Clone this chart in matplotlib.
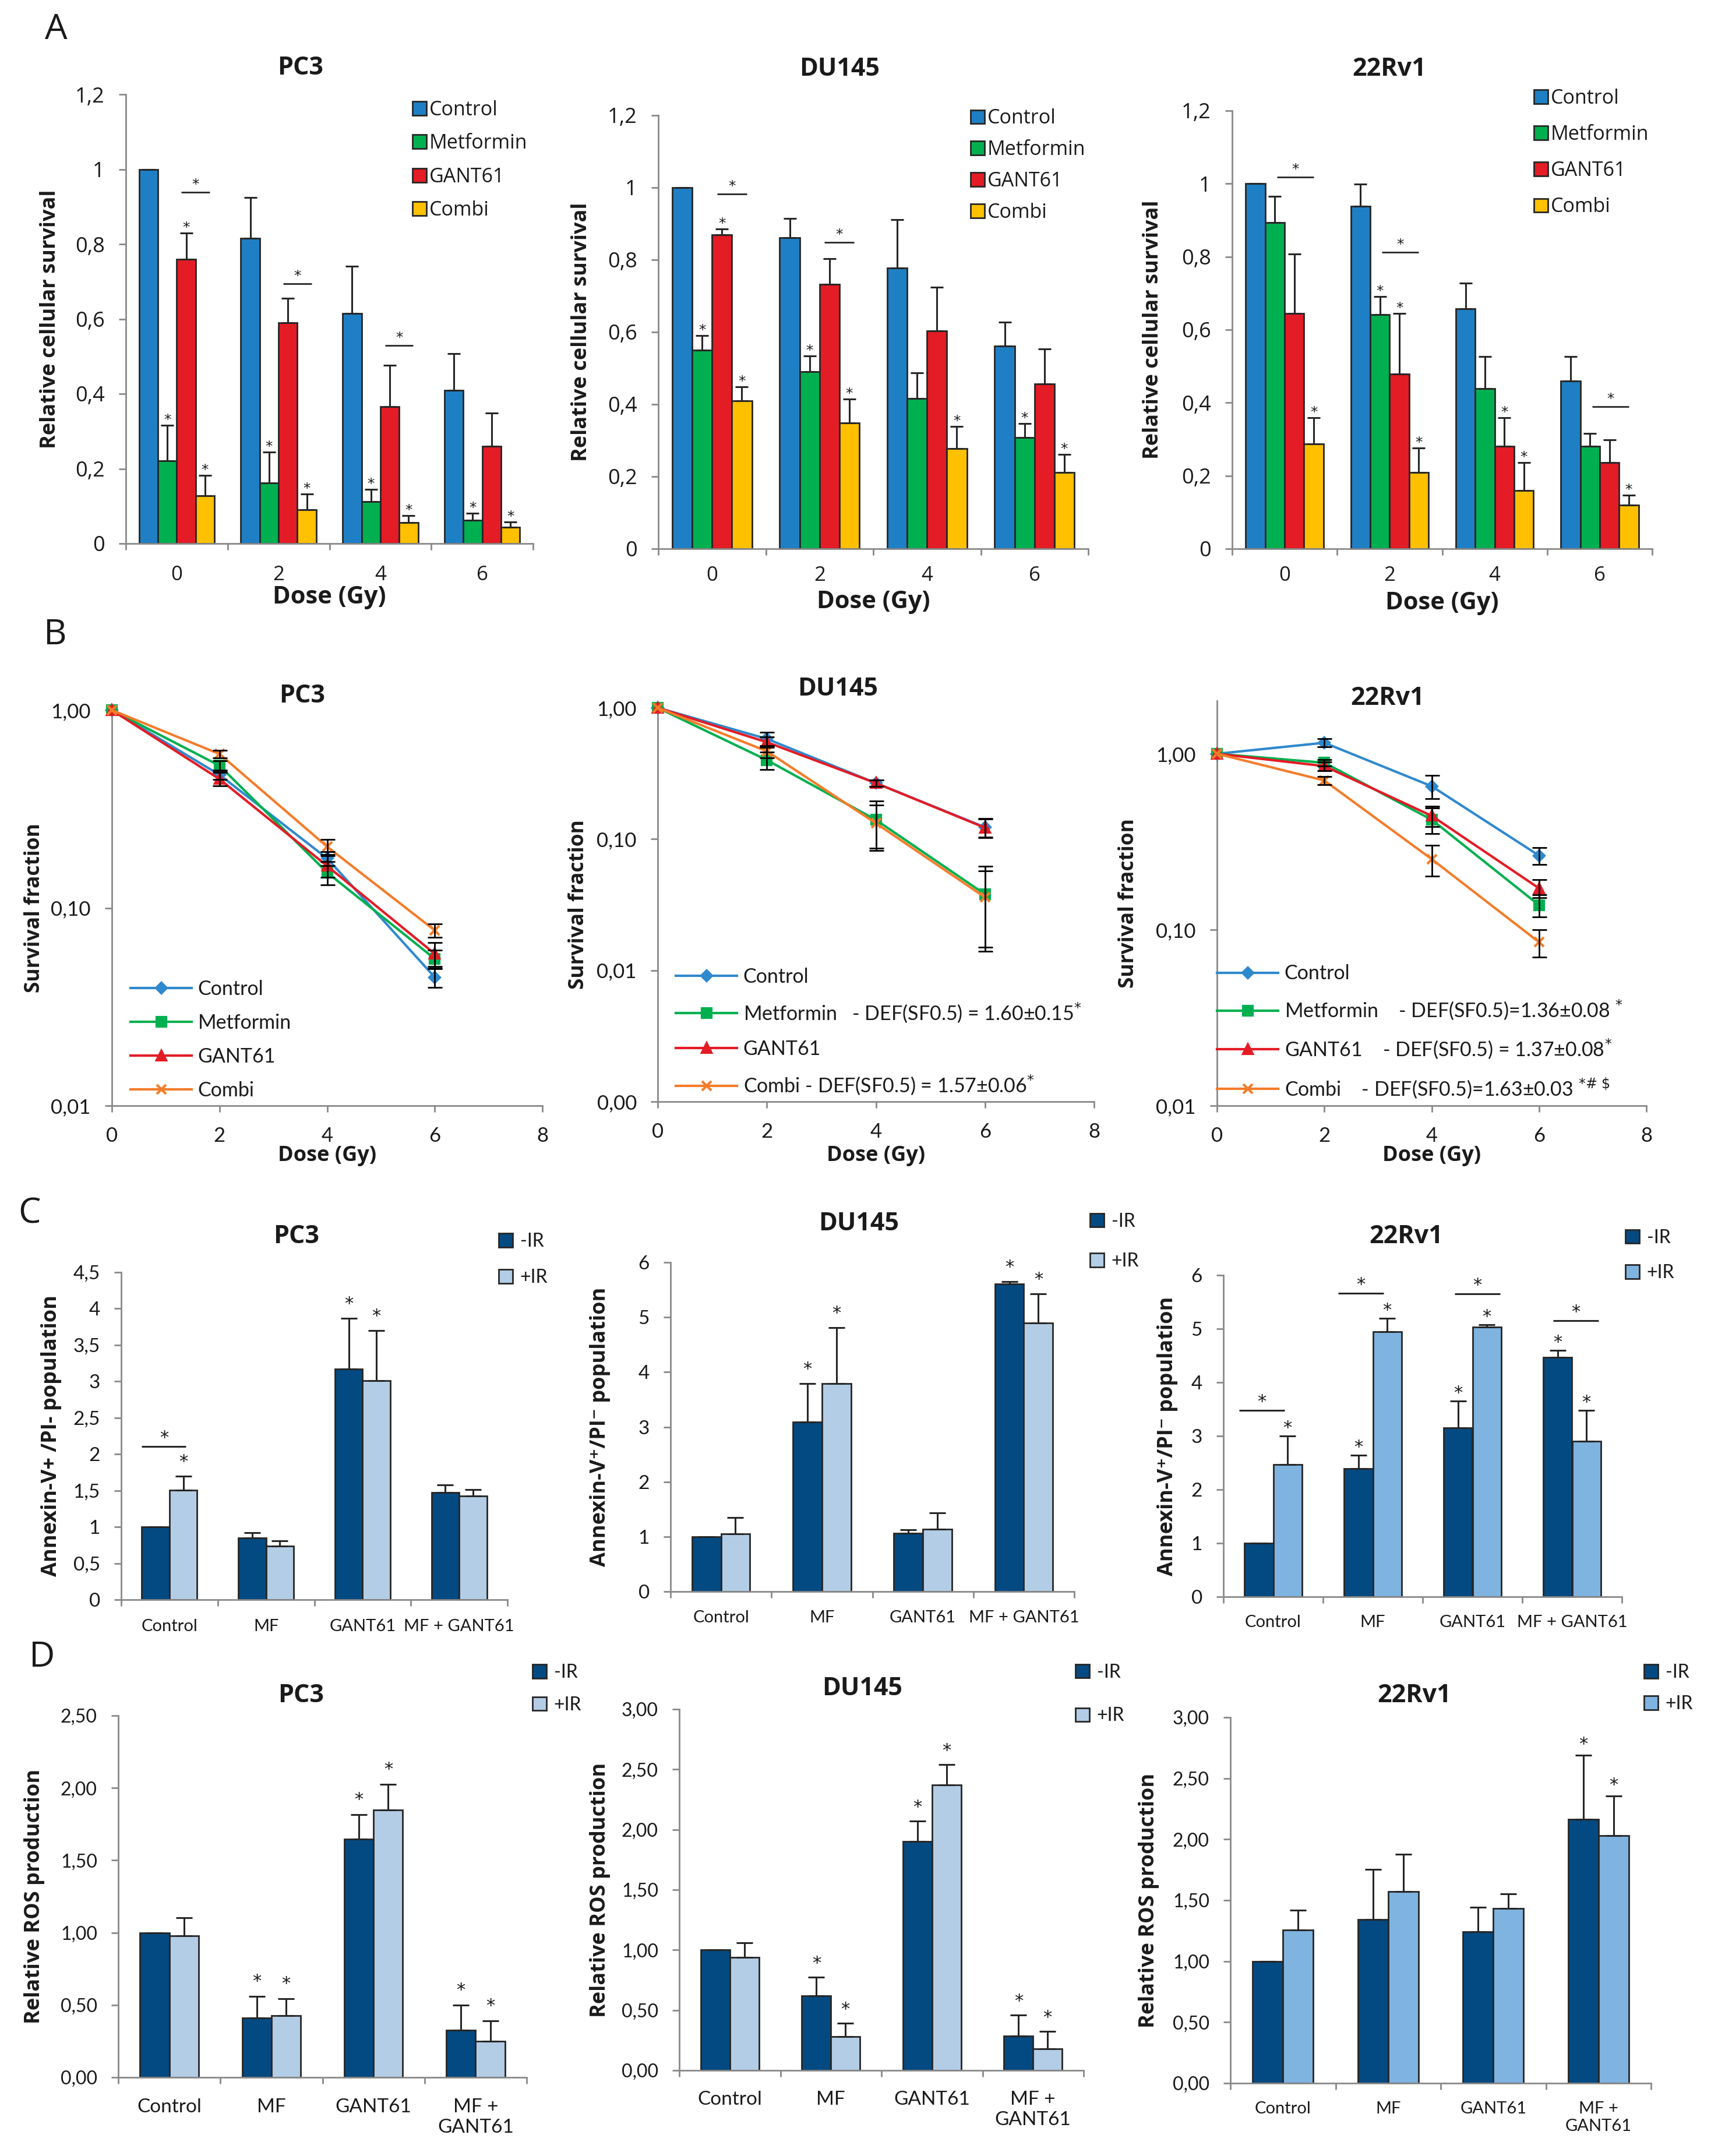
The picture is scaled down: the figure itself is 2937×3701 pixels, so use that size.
import numpy as np
import matplotlib.pyplot as plt

plt.rcParams['font.family'] = ['Open Sans', 'DejaVu Sans']
plt.rcParams['mathtext.fontset'] = 'dejavusans'

W, H = 2937, 3701

# ---------------- data ----------------
treatments = ['Control', 'Metformin', 'GANT61', 'Combi']
dose_gy = [0, 2, 4, 6]
b_dose_ticks = [0, 2, 4, 6, 8]
conditions_c = ['Control', 'MF', 'GANT61', 'MF + GANT61']
conditions_d = ['Control', 'MF', 'GANT61', 'MF +\nGANT61']
ir_labels = ['-IR', '+IR']

# A - relative cellular survival (rows = treatments, cols = doses)
a_pc3 = [[1.000, 0.816, 0.615, 0.410], [0.221, 0.162, 0.112, 0.062],
         [0.759, 0.590, 0.366, 0.260], [0.128, 0.090, 0.056, 0.044]]
a_pc3_err = [[0.0, 0.108, 0.126, 0.098], [0.095, 0.083, 0.032, 0.019],
             [0.070, 0.066, 0.110, 0.088], [0.054, 0.043, 0.018, 0.014]]
a_pc3_sig = [[0, 0, 0, 0], [1, 1, 1, 1], [1, 0, 0, 0], [1, 1, 1, 1]]
a_pc3_brackets = [(0, 0.939), (1, 0.694), (2, 0.529)]

a_du145 = [[1.000, 0.862, 0.778, 0.561], [0.550, 0.490, 0.416, 0.308],
           [0.870, 0.732, 0.603, 0.457], [0.410, 0.349, 0.277, 0.211]]
a_du145_err = [[0.0, 0.053, 0.134, 0.067], [0.041, 0.044, 0.071, 0.039],
               [0.015, 0.071, 0.121, 0.096], [0.039, 0.066, 0.062, 0.051]]
a_du145_sig = [[0, 0, 0, 0], [1, 1, 0, 1], [1, 0, 0, 0], [1, 1, 1, 1]]
a_du145_brackets = [(0, 0.982), (1, 0.848)]

a_22rv1 = [[1.000, 0.939, 0.658, 0.460], [0.893, 0.642, 0.439, 0.281],
           [0.645, 0.479, 0.281, 0.236], [0.287, 0.209, 0.160, 0.119]]
a_22rv1_err = [[0.0, 0.060, 0.069, 0.066], [0.073, 0.049, 0.087, 0.035],
               [0.163, 0.166, 0.078, 0.063], [0.072, 0.067, 0.076, 0.028]]
a_22rv1_sig = [[0, 0, 0, 0], [0, 1, 0, 0], [0, 1, 1, 0], [1, 1, 1, 1]]
a_22rv1_brackets = [(0, 1.018), (1, 0.812), (3, 0.389)]

a_yticks = [0, 0.2, 0.4, 0.6, 0.8, 1.0, 1.2]

# B - clonogenic survival fraction (rows = treatments, cols = doses)
b_pc3 = [[1, 0.471, 0.178, 0.0446], [1, 0.524, 0.151, 0.0553],
         [1, 0.448, 0.163, 0.0586], [1, 0.600, 0.204, 0.077]]
b_pc3_err = [[0, 0.025, 0.015, 0.005], [0, 0.03, 0.02, 0.006],
             [0, 0.035, 0.02, 0.008], [0, 0.025, 0.018, 0.006]]
b_du145 = [[1, 0.58, 0.267, 0.123], [1, 0.40, 0.14, 0.038],
           [1, 0.547, 0.267, 0.122], [1, 0.467, 0.132, 0.036]]
b_du145_err = [[0, 0.07, 0.015, 0.02], [0, 0.06, 0.055, 0.024],
               [0, 0.05, 0.015, 0.02], [0, 0.05, 0.05, 0.021]]
b_22rv1 = [[1, 1.155, 0.654, 0.264], [1, 0.889, 0.422, 0.138],
           [1, 0.851, 0.444, 0.172], [1, 0.705, 0.252, 0.085]]
b_22rv1_err = [[0, 0.06, 0.10, 0.03], [0, 0.04, 0.07, 0.02],
               [0, 0.05, 0.06, 0.02], [0, 0.04, 0.05, 0.015]]
b_pc3_labels = ['Control', 'Metformin', 'GANT61', 'Combi']
b_du145_labels = ['Control', 'Metformin   - DEF(SF0.5) = 1.60\u00b10.15$^{*}$',
                  'GANT61', 'Combi - DEF(SF0.5) = 1.57\u00b10.06$^{*}$']
b_22rv1_labels = ['Control', 'Metformin    - DEF(SF0.5)=1.36\u00b10.08 $^{*}$',
                  'GANT61    - DEF(SF0.5) = 1.37\u00b10.08$^{*}$',
                  'Combi    - DEF(SF0.5)=1.63\u00b10.03 $^{*\\#\\ \\$}$']

# C - Annexin-V+/PI- population
c_pc3_minus = [1.0, 0.850, 3.167, 1.475]
c_pc3_minus_err = [0.0, 0.07, 0.70, 0.10]
c_pc3_plus = [1.504, 0.736, 3.008, 1.422]
c_pc3_plus_err = [0.19, 0.074, 0.69, 0.094]
c_pc3_sig = [[0, 0, 1, 0], [1, 0, 1, 0]]
c_pc3_brackets = [(0, 2.109)]

c_du145_minus = [1.0, 3.095, 1.066, 5.611]
c_du145_minus_err = [0.0, 0.693, 0.064, 0.038]
c_du145_plus = [1.055, 3.788, 1.131, 4.897]
c_du145_plus_err = [0.298, 1.022, 0.303, 0.525]
c_du145_sig = [[0, 1, 0, 1], [0, 1, 0, 1]]
c_du145_brackets = []

c_22rv1_minus = [1.0, 2.386, 3.152, 4.467]
c_22rv1_minus_err = [0.0, 0.256, 0.500, 0.128]
c_22rv1_plus = [2.47, 4.945, 5.028, 2.902]
c_22rv1_plus_err = [0.532, 0.249, 0.05, 0.572]
c_22rv1_sig = [[0, 1, 1, 1], [1, 1, 1, 1]]
c_22rv1_brackets = [(0, 3.474), (1, 5.66), (2, 5.65), (3, 5.15)]

c_pc3_yticks = [0, 0.5, 1, 1.5, 2, 2.5, 3, 3.5, 4, 4.5]
c_yticks = [0, 1, 2, 3, 4, 5, 6]

# D - relative ROS production
d_pc3_minus = [1.0, 0.409, 1.646, 0.328]
d_pc3_minus_err = [0.0, 0.152, 0.171, 0.172]
d_pc3_plus = [0.979, 0.425, 1.849, 0.249]
d_pc3_plus_err = [0.124, 0.120, 0.176, 0.142]
d_pc3_sig = [[0, 1, 1, 1], [0, 1, 1, 1]]

d_du145_minus = [1.0, 0.617, 1.902, 0.285]
d_du145_minus_err = [0.0, 0.155, 0.169, 0.174]
d_du145_plus = [0.938, 0.283, 2.37, 0.177]
d_du145_plus_err = [0.122, 0.111, 0.171, 0.146]
d_du145_sig = [[0, 1, 1, 1], [0, 1, 1, 1]]

d_22rv1_minus = [1.0, 1.342, 1.24, 2.165]
d_22rv1_minus_err = [0.0, 0.41, 0.203, 0.524]
d_22rv1_plus = [1.256, 1.570, 1.435, 2.031]
d_22rv1_plus_err = [0.161, 0.308, 0.116, 0.325]
d_22rv1_sig = [[0, 0, 0, 1], [0, 0, 0, 1]]

d_pc3_yticks = [0, 0.5, 1.0, 1.5, 2.0, 2.5]
d_yticks = [0, 0.5, 1.0, 1.5, 2.0, 2.5, 3.0]

# ---------------- style ----------------
AXIS_GREY = '#898989'
INK = '#1a1a1a'
EDGE = '#262626'
A_COLORS = ['#1f7fc4', '#00b050', '#e31c25', '#ffc000']
B_COLORS = ['#2f89cd', '#00b050', '#e31c25', '#f47c2a']
B_MARKERS = ['D', 's', '^', 'x']
B_MS = [9, 11, 12, 12]
DARK_IR = '#044a82'
LIGHT_IR = '#b4cde6'
MID_IR = '#7fb3e0'

fig = plt.figure(figsize=(W / 100, H / 100), dpi=100)


def add_ax(box):
    l, t, r, b = box
    return fig.add_axes([l / W, 1 - b / H, (r - l) / W, (b - t) / H])


def in_ax(box, x, y):
    l, t, r, b = box
    return (x - l) / (r - l), (b - y) / (b - t)


def fig_text(x, y, s, **kw):
    fig.text(x / W, 1 - y / H, s, ha='center', va='center', color=INK, **kw)


def comma(v, fmt):
    return format(v, fmt).replace('.', ',')


def base_style(ax):
    for s in ('top', 'right'):
        ax.spines[s].set_visible(False)
    for s in ('left', 'bottom'):
        ax.spines[s].set_color(AXIS_GREY)
        ax.spines[s].set_linewidth(2)
    ax.tick_params(axis='y', direction='out', length=9, width=2,
                   color=AXIS_GREY, pad=17, labelcolor=INK)
    ax.tick_params(axis='x', labelcolor=INK)


def star(ax, x, y, lift, size):
    ax.annotate('*', (x, y), xytext=(0, lift), textcoords='offset pixels',
                ha='center', va='baseline', fontsize=size,
                family='DejaVu Sans', color=INK, zorder=5)


def y_label(ax, box, text, x, size):
    ax.set_ylabel(text, fontsize=size, fontweight='bold', va='center', color=INK)
    ax.yaxis.set_label_coords(in_ax(box, x, 0)[0], 0.5)


def category_axis(ax, labels, size, pad, family):
    ax.set_xlim(-0.5, len(labels) - 0.5)
    ax.set_xticks(np.arange(len(labels)), labels, fontsize=size, family=family)
    ax.set_xticks(np.arange(len(labels) + 1) - 0.5, minor=True)
    ax.tick_params(axis='x', which='major', length=0, pad=pad)
    ax.tick_params(axis='x', which='minor', direction='out', length=8,
                   width=2, color=AXIS_GREY)


def panel_a(box, title, title_xy, means, errs, sigs, brackets, br_mid, br_half,
            ylab_x, tick_pad, dose_y, leg_left, leg_mid, leg_space):
    ax = add_ax(box)
    base_style(ax)
    base = np.arange(len(dose_gy))
    w = 0.185
    for i, name in enumerate(treatments):
        xs = base + (i - 1.5) * w
        ax.bar(xs, means[i], w, color=A_COLORS[i], edgecolor=EDGE,
               linewidth=2, label=name, zorder=2)
        ax.errorbar(xs, means[i], yerr=[np.zeros(len(xs)), errs[i]], fmt='none',
                    ecolor=EDGE, elinewidth=2.2, capsize=8, capthick=2.2, zorder=3)
        for j, s in enumerate(sigs[i]):
            if s:
                star(ax, xs[j], means[i][j] + errs[i][j], 2, 18)
    for g, y in brackets:
        xc = base[g] + br_mid * w
        ax.plot([xc - br_half * w, xc + br_half * w], [y, y], color=EDGE,
                lw=2, solid_capstyle='butt', zorder=3)
        star(ax, xc, y, 6, 18)
    ax.set_ylim(0, 1.2)
    ax.set_yticks(a_yticks, [comma(v, 'g') for v in a_yticks], fontsize=26)
    category_axis(ax, [str(d) for d in dose_gy], 25, tick_pad, 'Open Sans')
    y_label(ax, box, 'Relative cellular survival', ylab_x, 26)
    ax.set_xlabel('Dose (Gy)', fontsize=30, fontweight='bold', va='center', color=INK)
    ax.xaxis.set_label_coords(0.5, in_ax(box, 0, dose_y)[1])
    ax.legend(loc='center left', bbox_to_anchor=in_ax(box, leg_left, leg_mid),
              frameon=False, borderpad=0, borderaxespad=0, fontsize=24.5,
              handlelength=0.7, handleheight=0.7, handletextpad=0.15,
              labelspacing=leg_space, labelcolor=INK)
    fig_text(*title_xy, title, fontsize=31, fontweight='bold')


def panel_b(box, title, title_xy, curves, errs, labels, ylim, yticks, ylab_x,
            leg_left, leg_mid, leg_space):
    ax = add_ax(box)
    base_style(ax)
    ax.set_yscale('log')
    for i in range(len(curves)):
        ax.plot(dose_gy, curves[i], color=B_COLORS[i], lw=3, marker=B_MARKERS[i],
                ms=B_MS[i], mew=3, label=labels[i], zorder=3, clip_on=False)
        ax.errorbar(dose_gy[1:], curves[i][1:], yerr=errs[i][1:], fmt='none',
                    ecolor='black', elinewidth=2, capsize=9, capthick=2,
                    zorder=4, clip_on=False)
    ax.set_xlim(0, 8)
    ax.set_ylim(*ylim)
    ax.set_xticks(b_dose_ticks, [str(v) for v in b_dose_ticks], fontsize=25, family='Lato')
    ax.set_yticks(yticks, [comma(v, '.2f') for v in yticks], fontsize=25, family='Lato')
    ax.minorticks_off()
    ax.tick_params(axis='x', direction='out', length=8, width=2,
                   color=AXIS_GREY, pad=18)
    y_label(ax, box, 'Survival fraction', ylab_x, 25.5)
    ax.set_xlabel('Dose (Gy)', fontsize=26, fontweight='bold', va='center', color=INK)
    ax.xaxis.set_label_coords(0.5, in_ax(box, 0, 1984)[1])
    ax.legend(loc='center left', bbox_to_anchor=in_ax(box, leg_left, leg_mid),
              frameon=False, borderpad=0, borderaxespad=0,
              prop={'family': 'Lato', 'size': 24.5}, handlelength=3.1,
              handletextpad=0.3, labelspacing=leg_space, labelcolor=INK)
    fig_text(*title_xy, title, fontsize=31, fontweight='bold')


def panel_ir(box, title, title_xy, minus, minus_err, plus, plus_err, sig,
             brackets, br_offsets, plus_color, yticks, tick_fmt, tick_size,
             ylabel, ylab_x, cats, cat_size, cat_pad, star_lift,
             leg_left, leg_mid, leg_space):
    ax = add_ax(box)
    base_style(ax)
    base = np.arange(len(cats))
    w = 0.287
    groups = [(minus, minus_err, DARK_IR), (plus, plus_err, plus_color)]
    for k, (vals, err, col) in enumerate(groups):
        xs = base + (k - 0.5) * w
        ax.bar(xs, vals, w, color=col, edgecolor=EDGE, linewidth=2,
               label=ir_labels[k], zorder=2)
        ax.errorbar(xs, vals, yerr=[np.zeros(len(xs)), err], fmt='none',
                    ecolor=EDGE, elinewidth=2.2, capsize=10, capthick=2.2, zorder=3)
        for j, s in enumerate(sig[k]):
            if s:
                star(ax, xs[j], vals[j] + err[j], star_lift, 22)
    for (g, y), off in zip(brackets, br_offsets):
        xc = base[g] + off * w
        ax.plot([xc - 0.8 * w, xc + 0.8 * w], [y, y], color=EDGE, lw=2.2,
                solid_capstyle='butt', zorder=3)
        star(ax, xc, y, 6, 22)
    ax.set_ylim(0, yticks[-1])
    ax.set_yticks(yticks, [comma(v, tick_fmt) for v in yticks],
                  fontsize=tick_size, family='Lato')
    category_axis(ax, cats, cat_size, cat_pad, 'Lato')
    y_label(ax, box, ylabel, ylab_x, 26)
    ax.legend(loc='center left', bbox_to_anchor=in_ax(box, leg_left, leg_mid),
              frameon=False, borderpad=0, borderaxespad=0,
              prop={'family': 'Lato', 'size': 23}, handlelength=0.75,
              handleheight=0.75, handletextpad=0.4, labelspacing=leg_space,
              labelcolor=INK)
    fig_text(*title_xy, title, fontsize=31, fontweight='bold')


# ---------------- panel A ----------------
panel_a((216, 162, 915, 933), 'PC3', (516, 116), a_pc3, a_pc3_err, a_pc3_sig,
        a_pc3_brackets, 1.0, 0.75, 86, 27, 1026, 708, 275, 0.69)
panel_a((1130, 198, 1868, 942), 'DU145', (1441, 119), a_du145, a_du145_err,
        a_du145_sig, a_du145_brackets, 1.0, 0.75, 998, 21, 1034, 1666, 284, 0.58)
panel_a((2115, 190, 2836, 942), '22Rv1', (2385, 119), a_22rv1, a_22rv1_err,
        a_22rv1_sig, a_22rv1_brackets, 0.55, 0.95, 1979, 21, 1036, 2633, 262, 0.83)

# ---------------- panel B ----------------
panel_b((192, 1219, 931, 1898), 'PC3', (519, 1195), b_pc3, b_pc3_err,
        b_pc3_labels, (0.01, 1.0), [0.01, 0.1, 1.0], 59, 224, 1785, 0.77)
panel_b((1129, 1215, 1878, 1891), 'DU145', (1438, 1183), b_du145, b_du145_err,
        b_du145_labels, (0.001, 1.0), [0.001, 0.01, 0.1, 1.0], 993, 1160, 1772, 0.77)
panel_b((2089, 1203, 2826, 1898), '22Rv1', (2382, 1198), b_22rv1, b_22rv1_err,
        b_22rv1_labels, (0.01, 2.0), [0.01, 0.1, 1.0], 1937, 2089, 1772, 0.78)

# ---------------- panel C ----------------
ann_plain = 'Annexin-V+ /PI- population'
ann_sup = 'Annexin-V\u207a/PI\u207b population'
panel_ir((208, 2184, 871, 2746), 'PC3', (509, 2122), c_pc3_minus, c_pc3_minus_err,
         c_pc3_plus, c_pc3_plus_err, c_pc3_sig, c_pc3_brackets, [-0.2], LIGHT_IR,
         c_pc3_yticks, 'g', 24, ann_plain, 88, conditions_c, 21, 24, 16, 856, 2162, 1.0)
panel_ir((1151, 2167, 1844, 2732), 'DU145', (1474, 2101), c_du145_minus,
         c_du145_minus_err, c_du145_plus, c_du145_plus_err, c_du145_sig,
         c_du145_brackets, [], LIGHT_IR, c_yticks, 'g', 24, ann_sup, 1030,
         conditions_c, 21, 23, 16, 1871, 2131, 1.2)
panel_ir((2100, 2189, 2784, 2741), '22Rv1', (2414, 2122), c_22rv1_minus,
         c_22rv1_minus_err, c_22rv1_plus, c_22rv1_plus_err, c_22rv1_sig,
         c_22rv1_brackets, [-0.4, -0.42, 0.17, 0.13], MID_IR, c_yticks, 'g', 24,
         ann_sup, 2004, conditions_c, 21, 22, 5, 2790, 2155, 0.95)

# ---------------- panel D ----------------
ros = 'Relative ROS production'
panel_ir((203, 2945, 904, 3566), 'PC3', (517, 2910), d_pc3_minus, d_pc3_minus_err,
         d_pc3_plus, d_pc3_plus_err, d_pc3_sig, [], [], LIGHT_IR, d_pc3_yticks,
         '.2f', 23, ros, 59, conditions_d, 24, 26, 17, 914, 2899, 0.8)
panel_ir((1166, 2934, 1860, 3554), 'DU145', (1480, 2899), d_du145_minus,
         d_du145_minus_err, d_du145_plus, d_du145_plus_err, d_du145_sig, [], [],
         LIGHT_IR, d_yticks, '.2f', 23, ros, 1030, conditions_d, 24, 25, 15, 1846, 2908, 1.4)
panel_ir((2112, 2948, 2834, 3576), '22Rv1', (2428, 2910), d_22rv1_minus,
         d_22rv1_minus_err, d_22rv1_plus, d_22rv1_plus_err, d_22rv1_sig, [], [],
         MID_IR, d_yticks, '.2f', 23, ros, 1972, conditions_d, 21, 22, 10, 2822, 2898, 0.75)

# panel letters
for letter, (lx, ly) in zip('ABCD', [(96, 51), (95, 1090), (50, 2083), (72, 2845)]):
    fig_text(lx, ly, letter, fontsize=44)

fig.savefig('out.png', dpi=100, facecolor='white')
